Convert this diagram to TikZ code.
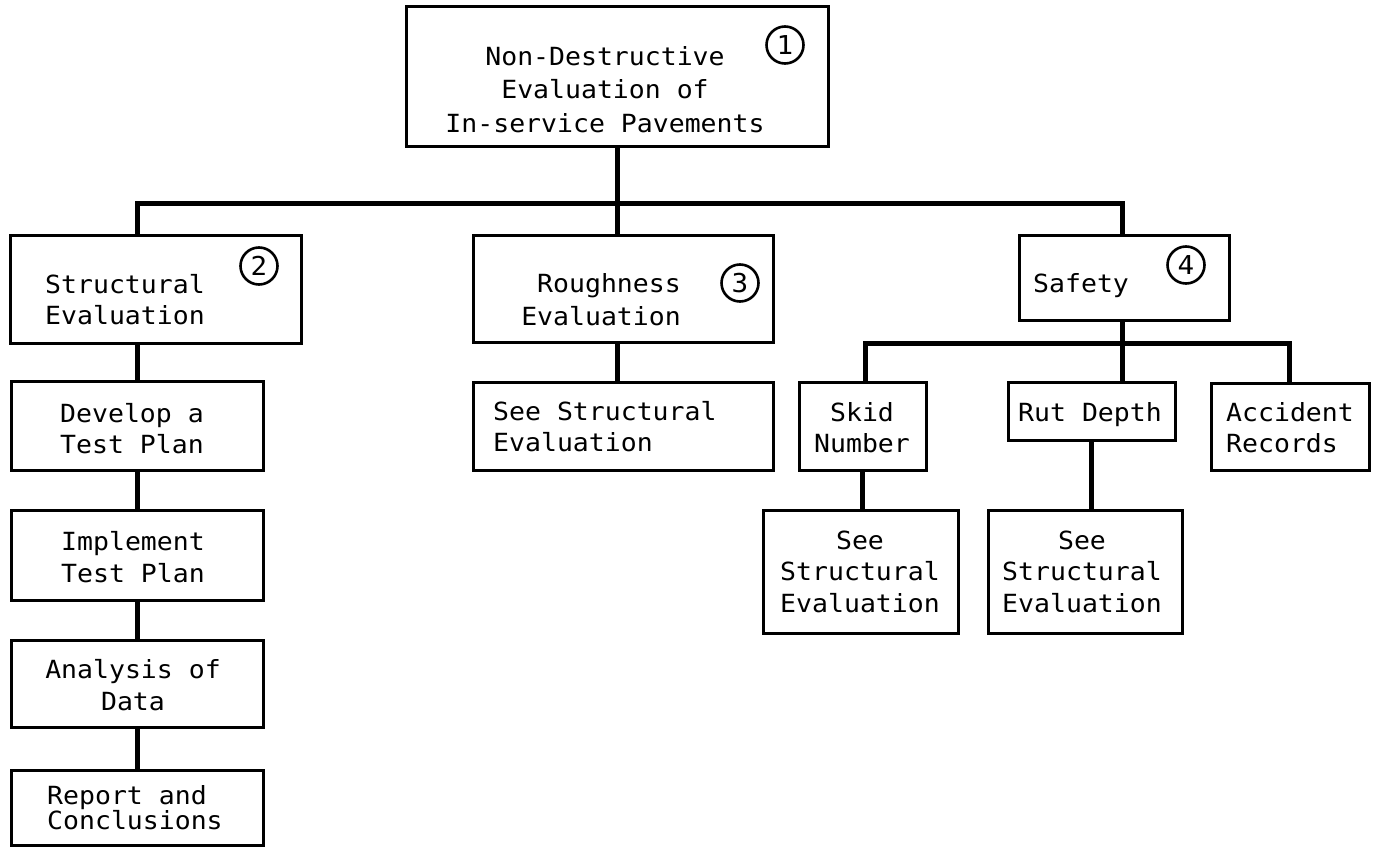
\documentclass[tikz,border=0pt]{standalone}
\usepackage{fontspec}
\newfontfamily\tw[FakeStretch=1.06]{DejaVu Sans Mono}
\newcommand{\fl}{\rule{0pt}{20pt}}
\tikzset{
  box/.style={draw, line width=3pt, inner sep=0pt},
  txt/.style={inner sep=0pt, font=\tw\fontsize{25}{31}\selectfont},
  conn/.style={line width=5pt},
  num/.style={circle, draw, line width=2.6pt, minimum size=37pt, inner sep=0pt, font=\tw\fontsize{26}{26}\selectfont},
}
\begin{document}
\begin{tikzpicture}[x=1pt,y=-1pt]
\fill[white] (0,0) rectangle (1377,856);
\useasboundingbox (0,0) rectangle (1377,856);

% boxes
\node[box, minimum width=422pt, minimum height=140pt] (top) at (617,77) {};
\node[box, minimum width=291pt, minimum height=108pt] (s2) at (155.5,289) {};
\node[box, minimum width=300pt, minimum height=107pt] (rough) at (623,288.5) {};
\node[box, minimum width=210pt, minimum height=85pt] (safety) at (1124,277.5) {};
\node[box, minimum width=252pt, minimum height=89pt] (develop) at (137,425.5) {};
\node[box, minimum width=252pt, minimum height=90pt] (implement) at (137,555) {};
\node[box, minimum width=252pt, minimum height=87pt] (analysis) at (137,683.5) {};
\node[box, minimum width=252pt, minimum height=75pt] (report) at (137,807.5) {};
\node[box, minimum width=300pt, minimum height=88pt] (rsee) at (623,426) {};
\node[box, minimum width=127pt, minimum height=88pt] (skid) at (862.5,426) {};
\node[box, minimum width=167pt, minimum height=58pt] (rut) at (1091.5,411) {};
\node[box, minimum width=158pt, minimum height=87pt] (acc) at (1290,426.5) {};
\node[box, minimum width=195pt, minimum height=123pt] (skidsee) at (860.5,571.5) {};
\node[box, minimum width=194pt, minimum height=123pt] (rutsee) at (1085,571.5) {};

% texts
\node[txt, anchor=north, align=center, font=\tw\fontsize{25}{33.5}\selectfont] (topt) at (605,45) {\fl Non-Destructive\\Evaluation of\\In-service Pavements};
\node[txt, anchor=north west, align=left] (s2t) at (45,273) {\fl Structural\\Evaluation};
\node[txt, anchor=north east, align=right, font=\tw\fontsize{25}{33}\selectfont] (rought) at (681,272) {\fl Roughness\\Evaluation};
\node[txt, anchor=north west] (safetyt) at (1033,272) {\fl Safety};
\node[txt, anchor=north, align=center] (developt) at (132,402) {\fl Develop a\\Test Plan};
\node[txt, anchor=north, align=center, font=\tw\fontsize{25}{32}\selectfont] (implementt) at (133,530) {\fl Implement\\Test Plan};
\node[txt, anchor=north, align=center, font=\tw\fontsize{25}{32}\selectfont] (analysist) at (133,658) {\fl Analysis of\\Data};
\node[txt, anchor=north west, align=left, font=\tw\fontsize{25}{25}\selectfont] (reportt) at (47,784) {\fl Report and\\Conclusions};
\node[txt, anchor=north west, align=left] (rseet) at (493,400) {\fl See Structural\\Evaluation};
\node[txt, anchor=north, align=center] (skidt) at (862,401) {\fl Skid\\Number};
\node[txt, anchor=north] (rutt) at (1090,401) {\fl Rut Depth};
\node[txt, anchor=north west, align=left] (acct) at (1226,401) {\fl Accident\\Records};
\node[txt, anchor=north, align=center, font=\tw\fontsize{25}{31.5}\selectfont] (skidseet) at (860,529) {\fl See\\Structural\\Evaluation};
\node[txt, anchor=north, align=center, font=\tw\fontsize{25}{31.5}\selectfont] (rutseet) at (1082,529) {\fl See\\Structural\\Evaluation};

% circled numbers
\node[num] (n1) at (785,45) {1};
\node[num] (n2) at (259,266) {2};
\node[num] (n3) at (740,283) {3};
\node[num] (n4) at (1186,265) {4};

% bus coordinates
\coordinate (busL) at (137,204);
\coordinate (busR) at (1122,204);
\coordinate (subL) at (865,343);
\coordinate (subR) at (1289,343);

% connectors
\draw[conn] (top.south) -- (top.south |- busL);
\draw[conn] (busL |- s2.north) -- (busL) -- (busR) -- (busR |- safety.north);
\draw[conn] (top.south |- busL) -- (top.south |- rough.north);
\draw[conn] (busL |- s2.south) -- (busL |- develop.north);
\draw[conn] (busL |- develop.south) -- (busL |- implement.north);
\draw[conn] (busL |- implement.south) -- (busL |- analysis.north);
\draw[conn] (busL |- analysis.south) -- (busL |- report.north);
\draw[conn] (top.south |- rough.south) -- (top.south |- rsee.north);
\draw[conn] (busR |- safety.south) -- (busR |- rut.north);
\draw[conn] (subL |- skid.north) -- (subL) -- (subR) -- (subR |- acc.north);
\draw[conn] (skid.south) -- (skid.south |- skidsee.north);
\draw[conn] (rut.south) -- (rut.south |- rutsee.north);
\end{tikzpicture}
\end{document}
